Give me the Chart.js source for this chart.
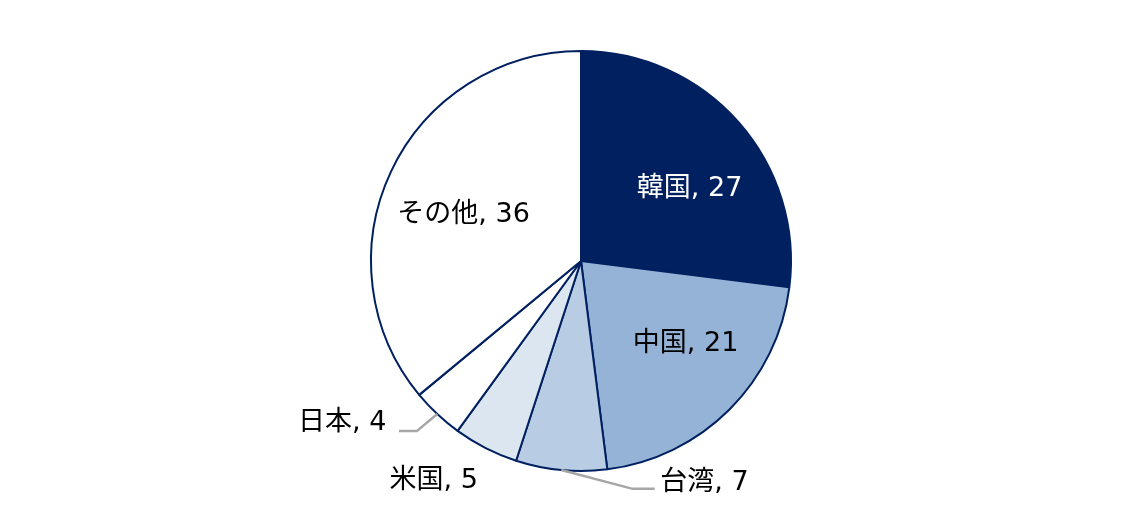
<!DOCTYPE html>
<html>
<head>
<meta charset="utf-8">
<script src="https://cdn.jsdelivr.net/npm/chart.js@4/dist/chart.umd.min.js"></script>
<style>
  html, body { margin: 0; padding: 0; background: #fff; }
  #wrap { position: relative; width: 1143px; height: 520px; }
</style>
</head>
<body>
<div id="wrap"><canvas id="chart-share"></canvas></div>
<script>
"use strict";

/* ---------- data ---------- */
const categories = ["韓国", "中国", "台湾", "米国", "日本", "その他"];
const shares = [27, 21, 7, 5, 4, 36];

/* ---------- styling ---------- */
const NAVY = "#002060";
const sliceColors = [NAVY, "#95B3D7", "#B8CCE4", "#DCE6F1", "#FFFFFF", "#FFFFFF"];
const labelColors = ["#FFFFFF", "#000000", "#000000", "#000000", "#000000", "#000000"];

// label centre relative to pie centre, in units of the outer radius
const labelPos = [
  [0.517, -0.346],
  [0.498, 0.389],
  [0.588, 1.052],
  [-0.701, 1.043],
  [-1.137, 0.768],
  [-0.559, -0.223],
];
// leader line: elbow and end point (radius units), start is the slice's outer mid point
const leaders = [
  null,
  null,
  [[0.246, 1.085], [0.351, 1.085]],
  null,
  [[-0.782, 0.810], [-0.867, 0.810]],
  null,
];

const FONT = '27px "DejaVu Sans", "Noto Sans CJK JP", sans-serif';

/* ==========================================================
   data labels (drawn after slices)
   ========================================================== */
const sliceLabels = {
  id: "sliceLabels",
  afterDatasetsDraw(chart) {
    const { ctx } = chart;
    const arcs = chart.getDatasetMeta(0).data;
    ctx.save();
    arcs.forEach((arc, i) => {
      const { x, y, outerRadius, startAngle, endAngle } = arc.getProps(
        ["x", "y", "outerRadius", "startAngle", "endAngle"], true);
      const r = outerRadius;
      const ld = leaders[i];
      if (ld) {
        const mid = (startAngle + endAngle) / 2;
        ctx.beginPath();
        ctx.moveTo(x + Math.cos(mid) * r, y + Math.sin(mid) * r);
        ld.forEach(p => ctx.lineTo(x + p[0] * r, y + p[1] * r));
        ctx.strokeStyle = "#A6A6A6";
        ctx.lineWidth = 2.5;
        ctx.stroke();
      }
      ctx.font = FONT;
      ctx.fillStyle = labelColors[i];
      ctx.textAlign = "center";
      ctx.textBaseline = "middle";
      ctx.fillText(`${categories[i]}, ${shares[i]}`, x + labelPos[i][0] * r, y + labelPos[i][1] * r + 1);
    });
    ctx.restore();
  }
};

new Chart(document.getElementById("chart-share"), {
  type: "pie",
  data: {
    labels: categories,
    datasets: [{
      data: shares,
      backgroundColor: sliceColors,
      borderColor: NAVY,
      borderWidth: 2,
      hoverOffset: 0,
      offset: 0,
    }],
  },
  options: {
    responsive: true,
    maintainAspectRatio: false,
    animation: false,
    layout: { padding: { top: 50, bottom: 48, left: 19, right: 0 } },
    plugins: {
      legend: { display: false },
      tooltip: { enabled: false },
    },
  },
  plugins: [sliceLabels],
});
</script>
</body>
</html>
